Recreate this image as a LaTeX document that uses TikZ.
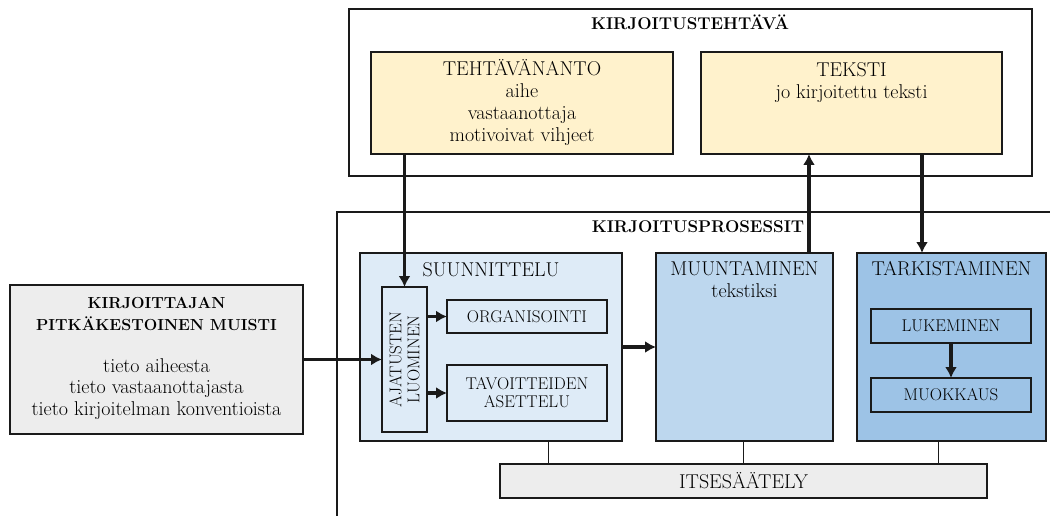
\documentclass[tikz,border=0pt]{standalone}
\usepackage{xcolor}
\usepackage{tikz}
\usetikzlibrary{calc}
\usetikzlibrary{positioning}
\usetikzlibrary{arrows.meta}
\tikzset{>={Latex[length=11pt,width=12pt]}}

\definecolor{keltainen}{HTML}{FFF2CC}
\definecolor{sininen1}{HTML}{DEEBF7}
\definecolor{sininen2}{HTML}{BDD7EE}
\definecolor{sininen3}{HTML}{9DC3E6}
\definecolor{harmaa}{HTML}{EDEDED}
\definecolor{reuna}{HTML}{1A1A1A}

\newcommand{\lihava}[1]{{\fontsize{16}{21.8}\selectfont\bfseries #1}}

\tikzset{
	laatikko/.style={draw=reuna, line width=1.8pt, inner sep=0pt, outer sep=0pt,
		anchor=north west, align=center},
	isoteksti/.style={font=\fontsize{20}{21.8}\selectfont, inner sep=0pt, align=center},
	pieniteksti/.style={font=\fontsize{17}{18}\selectfont},
	otsikko/.style={font=\fontsize{17}{21.5}\selectfont\bfseries, inner sep=0pt},
	paksu/.style={->, line width=3.5pt, draw=reuna},
	ohut/.style={line width=1.3pt, draw=reuna}
}

\begin{document}
\begin{tikzpicture}[x=1pt, y=-1pt]

	\useasboundingbox (0,0) rectangle (1050,516);

	\coordinate[](pr1) at (1052,212);
	\coordinate[](pr2) at (337,212);
	\coordinate[](pr3) at (337,518);
	\coordinate[](ylosx) at (809,0);
	\coordinate[](alasx) at (922,0);

	%% Kirjoitustehtava
	\node[laatikko, line width=2.8pt, minimum width=683pt, minimum height=167pt]
	(tehtava) at (349,9) {};
	\node[otsikko, anchor=base] (tehtavaotsikko) at (690,30) {KIRJOITUSTEHTÄVÄ};

	\node[laatikko, fill=keltainen, minimum width=302pt, minimum height=102pt]
	(tehtavananto) at (371,52) {};
	\node[isoteksti, below=7.5pt of tehtavananto.north] (tehtavanantoteksti)
	{TEHTÄVÄNANTO\\aihe\\vastaanottaja\\motivoivat vihjeet};

	\node[laatikko, fill=keltainen, minimum width=301pt, minimum height=102pt]
	(teksti) at (701,52) {};
	\node[isoteksti, below=10.3pt of teksti.north] (tekstiteksti)
	{TEKSTI\\jo kirjoitettu teksti};

	%% Kirjoitusprosessit
	\draw[line width=2.8pt, draw=reuna] (pr1) -- (pr2) -- (pr3);
	\node[otsikko, anchor=base] (prosessiotsikko) at (698,233) {KIRJOITUSPROSESSIT};

	% Suunnittelu
	\node[laatikko, fill=sininen1, minimum width=262pt, minimum height=188pt]
	(suunnittelu) at (360,253) {};
	\node[isoteksti, below=9pt of suunnittelu.north] (suunnitteluteksti) {SUUNNITTELU};

	\node[laatikko, fill=sininen1, minimum width=45pt, minimum height=145pt]
	(ajatus) at (382,287) {};
	\node[pieniteksti, align=center, inner sep=0pt, rotate=90] (ajatusteksti)
	at (ajatus.center) {AJATUSTEN\\LUOMINEN};

	\node[laatikko, pieniteksti, fill=sininen1, minimum width=160pt, minimum height=33pt]
	(organisointi) at (447,300) {ORGANISOINTI};
	\node[laatikko, pieniteksti, fill=sininen1, minimum width=160pt, minimum height=56pt]
	(tavoitteet) at (447,365) {TAVOITTEIDEN\\ASETTELU};

	% Muuntaminen
	\node[laatikko, fill=sininen2, minimum width=177pt, minimum height=188pt]
	(muuntaminen) at (656,253) {};
	\node[isoteksti, below=8.5pt of muuntaminen.north] (muuntaminenteksti)
	{MUUNTAMINEN\\tekstiksi};

	% Tarkistaminen
	\node[laatikko, fill=sininen3, minimum width=189pt, minimum height=188pt]
	(tarkistaminen) at (857,253) {};
	\node[isoteksti, below=8.5pt of tarkistaminen.north] (tarkistaminenteksti)
	{TARKISTAMINEN};

	\node[laatikko, pieniteksti, fill=sininen3, minimum width=160pt, minimum height=34pt]
	(lukeminen) at (871,309) {LUKEMINEN};
	\node[laatikko, pieniteksti, fill=sininen3, minimum width=160pt, minimum height=34pt]
	(muokkaus) at (871,378) {MUOKKAUS};

	% Itsesaately
	\node[laatikko, isoteksti, fill=harmaa, minimum width=487pt, minimum height=34pt]
	(itsesaately) at (500,464) {ITSESÄÄTELY};

	%% Muisti
	\node[laatikko, line width=2.8pt, fill=harmaa, minimum width=293pt, minimum height=149pt]
	(muisti) at (10,285) {};
	\node[isoteksti, below=12pt of muisti.north] (muistiteksti)
	{\lihava{KIRJOITTAJAN}\\\lihava{PITKÄKESTOINEN MUISTI}\\[20pt]tieto aiheesta\\
	tieto vastaanottajasta\\tieto kirjoitelman konventioista};

	%% Nuolet
	\draw[paksu] (muisti.east) -- (ajatus.west);
	\draw[paksu] (tehtavananto.south -| ajatus.north) -- (ajatus.north);
	\draw[paksu] (ajatus.east |- organisointi.west) -- (organisointi.west);
	\draw[paksu] (ajatus.east |- tavoitteet.west) -- (tavoitteet.west);
	\draw[paksu] (suunnittelu.east) -- (muuntaminen.west);
	\draw[paksu] (muuntaminen.north -| ylosx) -- (teksti.south -| ylosx);
	\draw[paksu] (teksti.south -| alasx) -- (tarkistaminen.north -| alasx);
	\draw[paksu] (lukeminen.south) -- (muokkaus.north);

	\foreach \lahto/\dx [count=\i] in {suunnittelu/-195, muuntaminen/0, tarkistaminen/195}
	{
	\coordinate (itse\i) at ($(itsesaately.north)+(\dx,0)$);
	\draw[ohut] (\lahto.south -| itse\i) -- (itse\i);
	}

\end{tikzpicture}
\end{document}
